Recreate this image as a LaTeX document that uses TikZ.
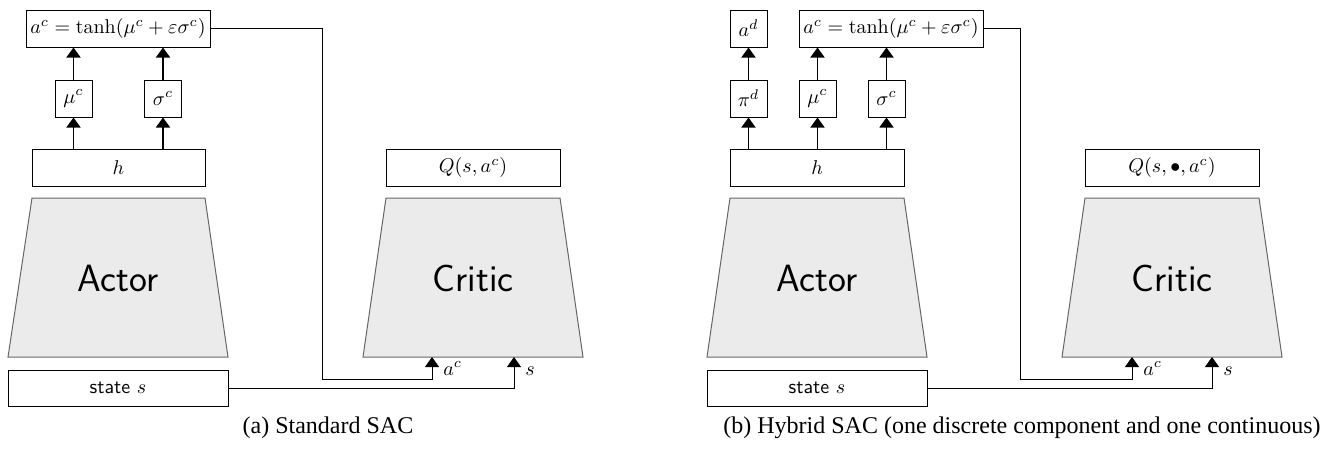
\documentclass[tikz,border=0pt]{standalone}
\usepackage{fontspec}
\newfontfamily\capfont{Liberation Serif}
\usetikzlibrary{arrows.meta}
\begin{document}
\begin{tikzpicture}[x=0.5pt,y=-0.5pt,
  bx/.style={draw, line width=0.5pt, inner sep=0pt, minimum height=18.5pt},
  sq/.style={bx, minimum width=18.5pt},
  arr/.style={line width=0.8pt, -{Triangle[width=7pt,length=5pt]}},
  conn/.style={line width=0.5pt, -{Triangle[width=7pt,length=5pt]}},
  trap/.style={fill=black!8, draw=black!60, line width=0.5pt},
  big/.style={font=\sffamily\fontsize{19}{22}\selectfont},
  lab/.style={inner sep=0pt, anchor=base west},
  captxt/.style={font=\capfont\fontsize{12}{14}\selectfont}]
\useasboundingbox (0,0) rectangle (1325,450);

% ---------- (a) ----------
\node[bx, minimum width=92pt] (tA) at (118,28.5) {$a^c=\tanh(\mu^c+\varepsilon\sigma^c)$};
\node[sq] (muA) at (73.5,98.5) {$\mu^c$};
\node[sq] (sgA) at (163,98.5) {$\sigma^c$};
\node[bx, minimum width=86.5pt] (hA) at (118.5,167.5) {$h$};
\filldraw[trap] (8,357) -- (32,198) -- (205,198) -- (228,357) -- cycle;
\node[big] (actA) at (118,278) {Actor};
\node[bx, minimum width=110pt, minimum height=18pt] (stA) at (118,388) {\sffamily state $s$};
\node[bx, minimum width=87pt] (QA) at (473,167.5) {$Q(s,a^c)$};
\filldraw[trap] (363,357) -- (386,198) -- (560,198) -- (583,357) -- cycle;
\node[big] (crA) at (473,278) {Critic};
\coordinate (jA) at (322,379);
\coordinate (inA1) at (432,357);
\coordinate (inA2) at (514,357);
\draw[arr] (muA.south |- hA.north) -- (muA.south);
\draw[arr] (sgA.south |- hA.north) -- (sgA.south);
\draw[arr] (muA.north) -- (muA.north |- tA.south);
\draw[arr] (sgA.north) -- (sgA.north |- tA.south);
\draw[conn] (tA.east) -| (jA) -| (inA1);
\draw[conn] (stA.east) -| (inA2);
\node[lab] (lA1) at (443,375) {$a^c$};
\node[lab] (lA2) at (525,375) {$s$};
\node[captxt] (capA) at (328,428) {(a) Standard SAC};

% ---------- (b) ----------
\node[sq] (adB) at (748.5,28.5) {$a^d$};
\node[bx, minimum width=92pt] (tB) at (891,28.5) {$a^c=\tanh(\mu^c+\varepsilon\sigma^c)$};
\node[sq] (piB) at (748.5,98.5) {$\pi^d$};
\node[sq] (muB) at (817.5,98.5) {$\mu^c$};
\node[sq] (sgB) at (886.5,98.5) {$\sigma^c$};
\node[bx, minimum width=87pt] (hB) at (817,167.5) {$h$};
\filldraw[trap] (707,357) -- (730,198) -- (904,198) -- (927,357) -- cycle;
\node[big] (actB) at (817,278) {Actor};
\node[bx, minimum width=110pt, minimum height=18pt] (stB) at (817,388) {\sffamily state $s$};
\node[bx, minimum width=87pt] (QB) at (1172,167.5) {$Q(s,\bullet,a^c)$};
\filldraw[trap] (1062,357) -- (1085,198) -- (1259,198) -- (1282,357) -- cycle;
\node[big] (crB) at (1172,278) {Critic};
\coordinate (jB) at (1020,379);
\coordinate (inB1) at (1132,357);
\coordinate (inB2) at (1212,357);
\draw[arr] (piB.south |- hB.north) -- (piB.south);
\draw[arr] (muB.south |- hB.north) -- (muB.south);
\draw[arr] (sgB.south |- hB.north) -- (sgB.south);
\draw[arr] (piB.north) -- (adB.south);
\draw[arr] (muB.north) -- (muB.north |- tB.south);
\draw[arr] (sgB.north) -- (sgB.north |- tB.south);
\draw[conn] (tB.east) -| (jB) -| (inB1);
\draw[conn] (stB.east) -| (inB2);
\node[lab] (lB1) at (1143,375) {$a^c$};
\node[lab] (lB2) at (1223,375) {$s$};
\node[captxt] (capB) at (1022,428) {(b) Hybrid SAC (one discrete component and one continuous)};
\end{tikzpicture}
\end{document}
